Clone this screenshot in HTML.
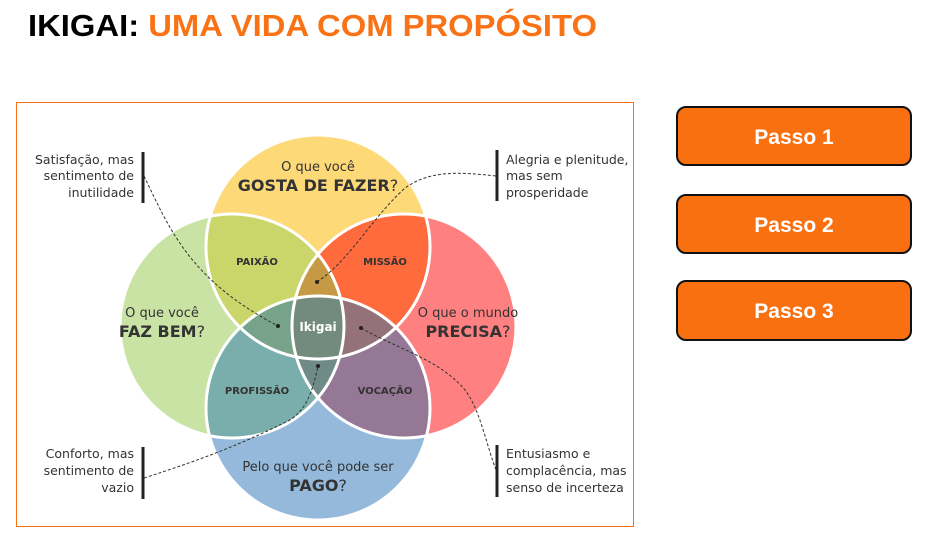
<!DOCTYPE html>
<html><head><meta charset="utf-8"><style>
html,body{margin:0;padding:0;background:#fff;}
svg{display:block;font-family:"Liberation Sans",sans-serif;}
</style></head><body>
<svg width="936" height="535" viewBox="0 0 936 535" xmlns="http://www.w3.org/2000/svg">
<defs>
<clipPath id="cT"><circle cx="318" cy="247" r="112"/></clipPath>
<clipPath id="cB"><circle cx="318" cy="408" r="112"/></clipPath>
<clipPath id="cL"><circle cx="232" cy="326" r="112"/></clipPath>
<clipPath id="cR"><circle cx="404" cy="326" r="112"/></clipPath>
</defs>
<text x="28" y="36" font-size="31" font-weight="bold" textLength="569" lengthAdjust="spacingAndGlyphs"><tspan fill="#000">IKIGAI: </tspan><tspan fill="#f97316">UMA VIDA COM PROPÓSITO</tspan></text>
<rect x="16.5" y="102.5" width="617" height="424" fill="#fff" stroke="#f97316" stroke-width="1"/>
<!-- base circles -->
<circle cx="318" cy="247" r="112" fill="#fdd978"/>
<circle cx="232" cy="326" r="112" fill="#c9e3a5"/>
<circle cx="404" cy="326" r="112" fill="#fe8080"/>
<circle cx="318" cy="408" r="112" fill="#95b9da"/>
<!-- pairwise -->
<g clip-path="url(#cT)"><circle cx="232" cy="326" r="112" fill="#cbd66a"/><circle cx="404" cy="326" r="112" fill="#ff6b3d"/></g>
<g clip-path="url(#cB)"><circle cx="232" cy="326" r="112" fill="#7aaeac"/><circle cx="404" cy="326" r="112" fill="#957896"/></g>
<g clip-path="url(#cL)"><g clip-path="url(#cR)"><circle cx="318" cy="247" r="112" fill="#c69a44"/><circle cx="318" cy="408" r="112" fill="#6f8b88"/></g></g>
<g clip-path="url(#cT)"><g clip-path="url(#cB)"><circle cx="232" cy="326" r="112" fill="#77a38a"/><circle cx="404" cy="326" r="112" fill="#95727a"/></g></g>
<g clip-path="url(#cT)"><g clip-path="url(#cB)"><g clip-path="url(#cL)"><circle cx="404" cy="326" r="112" fill="#738a7e"/></g></g></g>
<!-- outlines -->
<g fill="none" stroke="#fff" stroke-width="3">
<circle cx="318" cy="247" r="112"/><circle cx="232" cy="326" r="112"/><circle cx="404" cy="326" r="112"/><circle cx="318" cy="408" r="112"/>
</g>
<!-- labels -->
<g fill="#333" text-anchor="middle" font-family="'DejaVu Sans','Liberation Sans',sans-serif">
<text x="318" y="171" font-size="13">O que você</text>
<text x="318" y="191" font-size="16" font-weight="bold">GOSTA DE FAZER<tspan font-weight="normal">?</tspan></text>
<text x="162" y="317" font-size="13">O que você</text>
<text x="162" y="337" font-size="16" font-weight="bold">FAZ BEM<tspan font-weight="normal">?</tspan></text>
<text x="468" y="317" font-size="13">O que o mundo</text>
<text x="468" y="337" font-size="16" font-weight="bold">PRECISA<tspan font-weight="normal">?</tspan></text>
<text x="318" y="471" font-size="13">Pelo que você pode ser</text>
<text x="318" y="491" font-size="16" font-weight="bold">PAGO<tspan font-weight="normal">?</tspan></text>
<text x="257" y="265" font-size="10" font-weight="bold">PAIXÃO</text>
<text x="385" y="265" font-size="10" font-weight="bold">MISSÃO</text>
<text x="257" y="394" font-size="10" font-weight="bold">PROFISSÃO</text>
<text x="385" y="394" font-size="10" font-weight="bold">VOCAÇÃO</text>
<text x="318" y="331" font-size="12" font-weight="bold" fill="#fff">Ikigai</text>
</g>
<!-- side notes -->
<g fill="#333" font-size="12.5" font-family="'DejaVu Sans','Liberation Sans',sans-serif">
<g text-anchor="end">
<text x="134" y="164">Satisfação, mas</text><text x="134" y="180">sentimento de</text><text x="134" y="197">inutilidade</text>
<text x="134" y="458">Conforto, mas</text><text x="134" y="475">sentimento de</text><text x="134" y="492">vazio</text>
</g>
<text x="506" y="164">Alegria e plenitude,</text><text x="506" y="180">mas sem</text><text x="506" y="197">prosperidade</text>
<text x="506" y="458">Entusiasmo e</text><text x="506" y="475">complacência, mas</text><text x="506" y="492">senso de incerteza</text>
</g>
<g stroke="#222" stroke-width="3">
<line x1="143" y1="152" x2="143" y2="203"/><line x1="143" y1="447" x2="143" y2="499"/>
<line x1="497" y1="150" x2="497" y2="201"/><line x1="497" y1="445" x2="497" y2="497"/>
</g>
<g fill="none" stroke="#333" stroke-width="1" stroke-dasharray="3,2">
<path d="M144,176 C170,230 190,280 278,326"/>
<path d="M317,282 C350,260 370,220 405,188 C430,170 460,172 496,176"/>
<path d="M144,478 C200,460 240,445 290,420 C305,410 312,395 318,366"/>
<path d="M361,328 C400,350 440,360 465,390 C480,410 485,440 496,470"/>
</g>
<g fill="#222"><circle cx="278" cy="326" r="2"/><circle cx="317" cy="282" r="2"/><circle cx="318" cy="366" r="2"/><circle cx="361" cy="328" r="2"/></g>
<!-- buttons -->
<g stroke="#111" stroke-width="2" fill="#f97010">
<rect x="677" y="107" width="234" height="58" rx="9"/>
<rect x="677" y="195" width="234" height="58" rx="9"/>
<rect x="677" y="281" width="234" height="59" rx="9"/>
</g>
<g fill="#fff" font-size="21" font-weight="bold" text-anchor="middle">
<text x="794" y="144">Passo 1</text><text x="794" y="232">Passo 2</text><text x="794" y="318">Passo 3</text>
</g>
</svg>
</body></html>
